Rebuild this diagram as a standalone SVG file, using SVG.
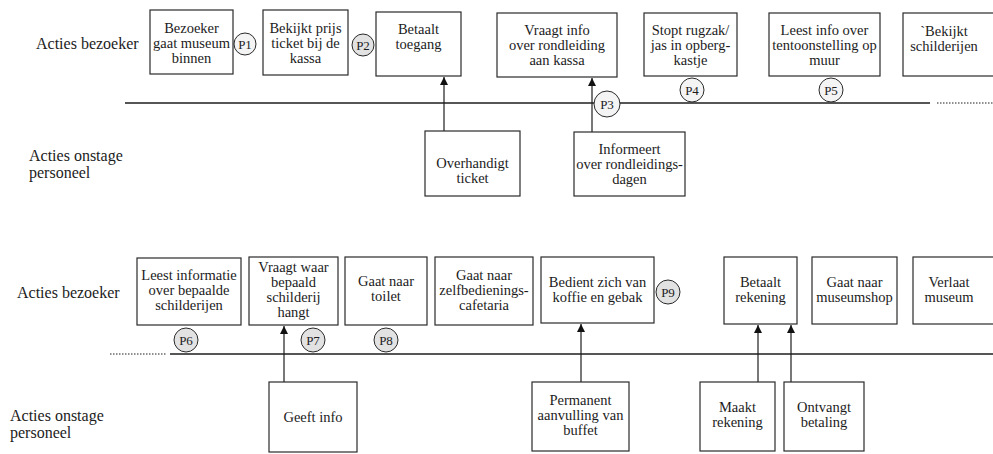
<svg xmlns="http://www.w3.org/2000/svg" width="993" height="454" viewBox="0 0 993 454" font-family="'Liberation Serif', 'Times New Roman', serif">
  <defs>
    <marker id="arrow" viewBox="0 0 10 10" refX="10" refY="5" markerWidth="10" markerHeight="8" markerUnits="userSpaceOnUse" orient="auto">
      <path d="M0,0 L10,5 L0,10 z" fill="#111"/>
    </marker>
    <style>
      text { font-family: "Liberation Serif", "Times New Roman", serif; fill: #1c1c1c; }
      .lane { font-size: 16px; }
      .box rect { fill: #fff; stroke: #2a2a2a; stroke-width: 1.2; }
      .box text { font-size: 14.5px; text-anchor: middle; }
      .pt circle { stroke: #2a2a2a; stroke-width: 1; }
      .pt text { font-size: 13px; text-anchor: middle; }
      .pl circle { fill: #f4f4f4; }
      .pd circle { fill: #e2e2e2; }
      .line { stroke: #1e1e1e; stroke-width: 1.4; fill: none; }
      .dots { stroke: #1e1e1e; stroke-width: 1; stroke-dasharray: 1.5 1.5; fill: none; }
      .conn { stroke: #1e1e1e; stroke-width: 1.2; fill: none; marker-end: url(#arrow); }
    </style>
  </defs>
  <rect width="993" height="454" fill="#fff"/>

  <!-- lane labels -->
  <g id="lanes">
    <text class="lane" x="36" y="49">Acties bezoeker</text>
    <text class="lane" x="29" y="161">Acties onstage</text>
    <text class="lane" x="29" y="178">personeel</text>
    <text class="lane" x="17" y="298">Acties bezoeker</text>
    <text class="lane" x="10" y="421">Acties onstage</text>
    <text class="lane" x="10" y="438">personeel</text>
  </g>

  <!-- lines of visibility and connectors -->
  <g id="connectors">
    <line class="line" x1="125" y1="103" x2="930" y2="103"/>
    <line class="dots" x1="937" y1="103" x2="993" y2="103"/>
    <line class="line" x1="170" y1="354" x2="993" y2="354"/>
    <line class="dots" x1="110" y1="354" x2="166" y2="354"/>
    <line class="conn" x1="444" y1="131" x2="444" y2="77"/>
    <line class="conn" x1="592" y1="132" x2="592" y2="78"/>
    <line class="conn" x1="284" y1="382" x2="284" y2="326"/>
    <line class="conn" x1="581" y1="382" x2="581" y2="324"/>
    <line class="conn" x1="758" y1="382" x2="758" y2="325"/>
    <line class="conn" x1="791" y1="382" x2="791" y2="325"/>
  </g>

  <!-- visitor actions, first row -->
  <g id="bezoeker-binnen" class="box">
    <rect x="150" y="10" width="83" height="64"/>
    <text x="191.5" y="33">Bezoeker</text>
    <text x="191.5" y="48">gaat museum</text>
    <text x="191.5" y="63">binnen</text>
  </g>
  <g id="bekijkt-prijs" class="box">
    <rect x="263" y="10" width="85" height="65"/>
    <text x="305.5" y="33">Bekijkt prijs</text>
    <text x="305.5" y="48">ticket bij de</text>
    <text x="305.5" y="63">kassa</text>
  </g>
  <g id="betaalt-toegang" class="box">
    <rect x="376" y="12" width="85" height="64"/>
    <text x="418.5" y="34">Betaalt</text>
    <text x="418.5" y="49">toegang</text>
  </g>
  <g id="vraagt-info" class="box">
    <rect x="497" y="13" width="120" height="64"/>
    <text x="557" y="35">Vraagt info</text>
    <text x="557" y="50">over rondleiding</text>
    <text x="557" y="65">aan kassa</text>
  </g>
  <g id="stopt-rugzak" class="box">
    <rect x="644" y="13" width="93" height="63"/>
    <text x="690.5" y="35">Stopt rugzak/</text>
    <text x="690.5" y="50">jas in opberg-</text>
    <text x="690.5" y="65">kastje</text>
  </g>
  <g id="leest-info" class="box">
    <rect x="769" y="13" width="111" height="63"/>
    <text x="824.5" y="35">Leest info over</text>
    <text x="824.5" y="50">tentoonstelling op</text>
    <text x="824.5" y="65">muur</text>
  </g>
  <g id="bekijkt-schilderijen" class="box">
    <rect x="903" y="13" width="100" height="63"/>
    <text x="944" y="36">`Bekijkt</text>
    <text x="944" y="51">schilderijen</text>
  </g>

  <!-- onstage staff, first row -->
  <g id="overhandigt-ticket" class="box">
    <rect x="425" y="131" width="95" height="65"/>
    <text x="472.5" y="168">Overhandigt</text>
    <text x="472.5" y="183">ticket</text>
  </g>
  <g id="informeert" class="box">
    <rect x="574" y="132" width="111" height="64"/>
    <text x="629.5" y="154">Informeert</text>
    <text x="629.5" y="169">over rondleidings-</text>
    <text x="629.5" y="184">dagen</text>
  </g>

  <!-- visitor actions, second row -->
  <g id="leest-informatie" class="box">
    <rect x="137" y="258" width="104" height="67"/>
    <text x="189" y="280">Leest informatie</text>
    <text x="189" y="295">over bepaalde</text>
    <text x="189" y="310">schilderijen</text>
  </g>
  <g id="vraagt-waar" class="box">
    <rect x="249" y="257" width="89" height="68"/>
    <text x="293.5" y="272">Vraagt waar</text>
    <text x="293.5" y="287">bepaald</text>
    <text x="293.5" y="302">schilderij</text>
    <text x="293.5" y="317">hangt</text>
  </g>
  <g id="gaat-toilet" class="box">
    <rect x="345" y="257" width="82" height="68"/>
    <text x="386" y="286">Gaat naar</text>
    <text x="386" y="301">toilet</text>
  </g>
  <g id="gaat-cafetaria" class="box">
    <rect x="435" y="257" width="98" height="68"/>
    <text x="484" y="280">Gaat naar</text>
    <text x="484" y="295">zelfbedienings-</text>
    <text x="484" y="310">cafetaria</text>
  </g>
  <g id="bedient-zich" class="box">
    <rect x="541" y="257" width="113" height="66"/>
    <text x="597.5" y="287">Bedient zich van</text>
    <text x="597.5" y="302">koffie en gebak</text>
  </g>
  <g id="betaalt-rekening" class="box">
    <rect x="724" y="257" width="73" height="67"/>
    <text x="760.5" y="287">Betaalt</text>
    <text x="760.5" y="302">rekening</text>
  </g>
  <g id="gaat-museumshop" class="box">
    <rect x="812" y="257" width="85" height="67"/>
    <text x="854.5" y="287">Gaat naar</text>
    <text x="854.5" y="302">museumshop</text>
  </g>
  <g id="verlaat-museum" class="box">
    <rect x="913" y="257" width="90" height="67"/>
    <text x="949" y="287">Verlaat</text>
    <text x="949" y="302">museum</text>
  </g>

  <!-- onstage staff, second row -->
  <g id="geeft-info" class="box">
    <rect x="269" y="382" width="88" height="70"/>
    <text x="313" y="422">Geeft info</text>
  </g>
  <g id="permanent-aanvulling" class="box">
    <rect x="532" y="382" width="97" height="69"/>
    <text x="580.5" y="405">Permanent</text>
    <text x="580.5" y="420">aanvulling van</text>
    <text x="580.5" y="435">buffet</text>
  </g>
  <g id="maakt-rekening" class="box">
    <rect x="700" y="382" width="75" height="69"/>
    <text x="737.5" y="412">Maakt</text>
    <text x="737.5" y="427">rekening</text>
  </g>
  <g id="ontvangt-betaling" class="box">
    <rect x="784" y="382" width="80" height="69"/>
    <text x="824" y="412">Ontvangt</text>
    <text x="824" y="427">betaling</text>
  </g>

  <!-- points of attention -->
  <g id="p1" class="pt pl"><circle cx="245" cy="44" r="11"/><text x="245" y="48.5">P1</text></g>
  <g id="p2" class="pt pd"><circle cx="363" cy="45" r="11"/><text x="363" y="49.5">P2</text></g>
  <g id="p3" class="pt pl"><circle cx="607" cy="104" r="13"/><text x="607" y="108.5">P3</text></g>
  <g id="p4" class="pt pl"><circle cx="692" cy="90" r="12"/><text x="692" y="94.5">P4</text></g>
  <g id="p5" class="pt pl"><circle cx="831" cy="90" r="12"/><text x="831" y="94.5">P5</text></g>
  <g id="p6" class="pt pd"><circle cx="186" cy="340" r="12"/><text x="186" y="344.5">P6</text></g>
  <g id="p7" class="pt pd"><circle cx="313" cy="340" r="12"/><text x="313" y="344.5">P7</text></g>
  <g id="p8" class="pt pd"><circle cx="386" cy="340" r="12"/><text x="386" y="344.5">P8</text></g>
  <g id="p9" class="pt pd"><circle cx="668" cy="292" r="12"/><text x="668" y="296.5">P9</text></g>
</svg>
